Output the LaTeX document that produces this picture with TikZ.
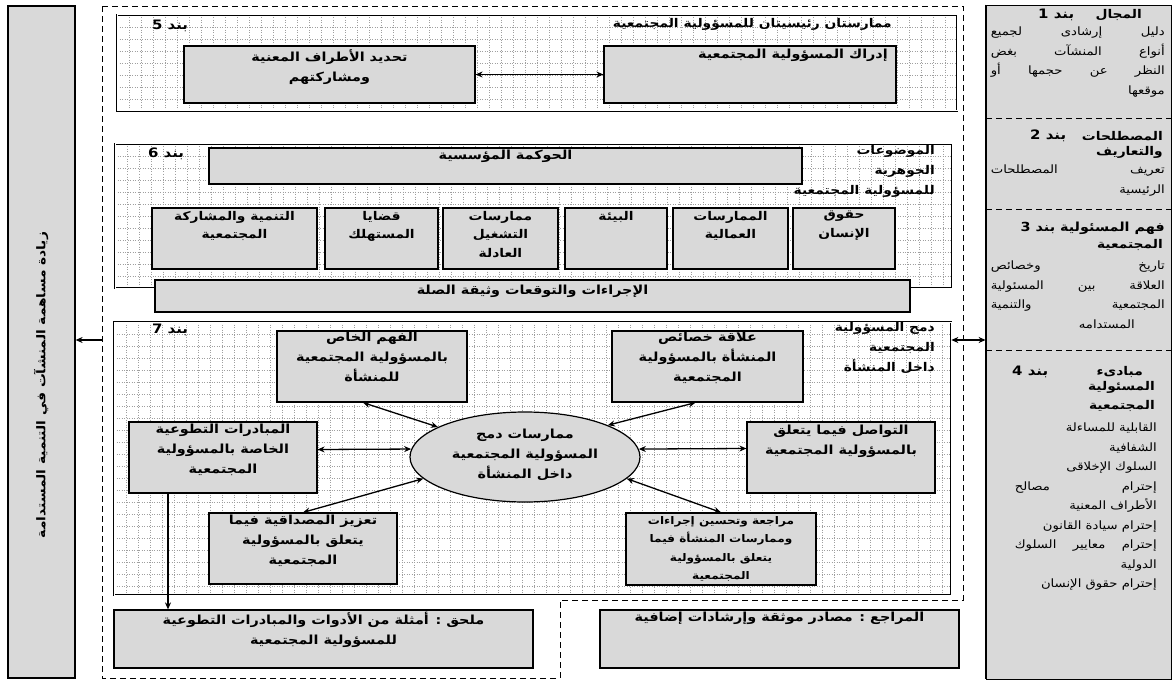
\documentclass[tikz,border=0pt]{standalone}
\usepackage{fontspec}
\usetikzlibrary{arrows.meta,calc,shapes.geometric}
\newfontfamily\ar[Script=Arabic,FakeStretch=1.15]{DejaVu Sans}
\TeXXeTstate=1
\newcommand\R[1]{\beginR #1\endR}
\definecolor{boxgray}{RGB}{217,217,217}
\newcommand\gridfill[4]{%
  \begin{scope}
    \clip (#1,#2) rectangle (#3,#4);
    \foreach \gx in {0,12,...,900} \draw[gridline] ({#1+\gx},#2) -- ({#1+\gx},#4);
    \foreach \gy in {0,12,...,300} \draw[gridline] (#1,{#2+\gy}) -- (#3,{#2+\gy});
  \end{scope}}
\begin{document}
\begin{tikzpicture}[x=1pt,y=-1pt,
  gridline/.style={gray!75, line width=0.5pt, dash pattern=on 1pt off 1.5pt},
  frame/.style={draw, line width=0.6pt, double, double distance=1pt, inner sep=0pt},
  gbox/.style={draw, line width=1.2pt, fill=boxgray, inner sep=0pt},
  bt/.style={font=\ar\bfseries\fontsize{12.5}{20}\selectfont, align=center, inner sep=0pt, anchor=north},
  lt/.style={font=\ar\bfseries\fontsize{12}{20}\selectfont, align=right, inner sep=0pt, anchor=north east},
  band/.style={font=\ar\bfseries\fontsize{13}{15}\selectfont, inner sep=0pt},
  rt/.style={font=\ar\fontsize{11.5}{19.5}\selectfont, align=right, inner sep=0pt, anchor=north east},
  rtb/.style={font=\ar\bfseries\fontsize{12}{19.5}\selectfont, align=right, inner sep=0pt},
  darr/.style={{Stealth[length=7pt,width=6pt]}-{Stealth[length=7pt,width=6pt]}, line width=1.3pt},
  arr/.style={-{Stealth[length=7pt,width=6pt]}, line width=1.3pt},
  dashframe/.style={line width=0.8pt, dash pattern=on 6pt off 4pt}
]
\useasboundingbox (0,0) rectangle (1173,682);
\fill[white] (0,0) rectangle (1173,682);

% ---------- left vertical box ----------
\node[gbox, minimum width=67pt, minimum height=672pt] (lbox) at (41.5,342) {};
\node[rotate=90, font=\ar\bfseries\fontsize{12}{14}\selectfont, inner sep=0pt] (ltxt) at (41,385)
  {\R{زيادة مساهمة المنشآت في التنمية المستدامة}};

% ---------- right column ----------
\node[draw, line width=0.8pt, fill=boxgray, inner sep=0pt, minimum width=185pt, minimum height=674pt] (rcol) at (1078.5,342) {};
\draw[line width=1.6pt] (rcol.north west) -- (rcol.south west);
\draw[dashframe] (986,118) -- (1171,118);
\draw[dashframe] (986,209) -- (1171,209);
\draw[dashframe] (986,350) -- (1171,350);

\node[rtb, anchor=east] (r1t) at (1142,15) {\R{المجال}};
\node[band, anchor=west] (r1b) at (1038,15) {\R{بند 1}};
\node[rt] (r1x) at (1165,27) {\hbox to 174pt{\beginR دليل إرشادى لجميع\endR}\\\hbox to 174pt{\beginR أنواع المنشآت بغض\endR}\\\hbox to 174pt{\beginR النظر عن حجمها أو\endR}\\\R{موقعها}};

\node[rtb, anchor=east] (r2t) at (1163,136) {\R{المصطلحات}};
\node[band, anchor=west] (r2b) at (1030,136) {\R{بند 2}};
\node[rtb, anchor=north east] (r2s) at (1163,146) {\R{والتعاريف}};
\node[rt] (r2x) at (1165,165) {\hbox to 174pt{\beginR تعريف المصطلحات\endR}\\\R{الرئيسية}};

\node[rtb, anchor=east, font=\ar\bfseries\fontsize{12.5}{19.5}\selectfont] (r3t) at (1165,228) {\R{فهم المسئولية بند 3}};
\node[rtb, anchor=north east] (r3s) at (1163,239) {\R{المجتمعية}};
\node[rt] (r3x) at (1165,261) {\hbox to 174pt{\beginR تاريخ وخصائص\endR}\\\hbox to 174pt{\beginR العلاقة بين المسئولية\endR}\\\hbox to 174pt{\beginR المجتمعية والتنمية\endR}\\\R{المستدامه}\hspace*{30pt}};

\node[rtb, anchor=east] (r4t) at (1143,372) {\R{مبادىء}};
\node[band, anchor=west] (r4b) at (1012,372) {\R{بند 4}};
\node[rtb, anchor=north east] (r4s) at (1155,381) {\R{المسئولية}\\\R{المجتمعية}};
\node[rt] (r4x) at (1157,423) {\R{القابلية للمساءلة}\\\R{الشفافية}\\\R{السلوك الإخلاقى}\\\hbox to 142pt{\beginR إحترام مصالح\endR}\\\R{الأطراف المعنية}\\\R{إحترام سيادة القانون}\\\hbox to 142pt{\beginR إحترام معايير السلوك\endR}\\\R{الدولية}\\\R{إحترام حقوق الإنسان}};

% ---------- dashed outer frame ----------
\draw[dashframe] (102,6) -- (963,6) -- (963,600) -- (560,600) -- (560,678) -- (102,678) -- cycle;
\coordinate (fl) at (102,340);

% ---------- grids ----------
\gridfill{117}{15}{957}{111}
\gridfill{115}{144}{952}{288}
\gridfill{114}{322}{951}{595}

% ---------- section 5 ----------
\node[frame, minimum width=840pt, minimum height=96pt] (sec5) at (537,63) {};
\node[band] (n5) at (170,26) {\R{بند 5}};
\node[font=\ar\bfseries\fontsize{12}{14}\selectfont, inner sep=0pt, anchor=east] (t5) at (892,24) {\R{ممارستان رئيسيتان للمسؤولية المجتمعية}};
\node[gbox, minimum width=291pt, minimum height=57pt] (b5l) at (329.5,74.5) {};
\node[gbox, minimum width=292pt, minimum height=57pt] (b5r) at (750,74.5) {};
\node[bt] (t5l) at (329.5,49) {\R{تحديد الأطراف المعنية}\\\R{ومشاركتهم}};
\node[bt, anchor=north east] (t5r) at (888,49) {\R{إدراك المسؤولية المجتمعية}};
\draw[darr] (b5l.east) -- (b5r.west);

% ---------- section 6 ----------
\node[frame, minimum width=837pt, minimum height=144pt] (sec6) at (533.5,216) {};
\node[band] (n6) at (166,154) {\R{بند 6}};
\node[lt] (l6) at (935,145) {\R{الموضوعات}\\\R{الجوهرية}\\\R{للمسؤولية المجتمعية}};
\node[gbox, minimum width=593pt, minimum height=36pt] (gov) at (505.5,166) {};
\node[bt] (tgov) at (505.5,150) {\R{الحوكمة المؤسسية}};
\node[gbox, minimum width=165pt, minimum height=61pt] (c1) at (234.5,238.5) {};
\node[gbox, minimum width=113pt, minimum height=61pt] (c2) at (381.5,238.5) {};
\node[gbox, minimum width=115pt, minimum height=61pt] (c3) at (500.5,238.5) {};
\node[gbox, minimum width=102pt, minimum height=61pt] (c4) at (616,238.5) {};
\node[gbox, minimum width=115pt, minimum height=61pt] (c5) at (730.5,238.5) {};
\node[gbox, minimum width=102pt, minimum height=61pt] (c6) at (844,238.5) {};
\node[bt, font=\ar\bfseries\fontsize{12}{18.5}\selectfont] (tc1) at (234.5,211) {\R{التنمية والمشاركة}\\\R{المجتمعية}};
\node[bt, font=\ar\bfseries\fontsize{12}{18.5}\selectfont] (tc2) at (381.5,211) {\R{قضايا}\\\R{المستهلك}};
\node[bt, font=\ar\bfseries\fontsize{12}{18.5}\selectfont] (tc3) at (500.5,211) {\R{ممارسات}\\\R{التشغيل}\\\R{العادلة}};
\node[bt, font=\ar\bfseries\fontsize{12}{18.5}\selectfont] (tc4) at (616,211) {\R{البيئة}};
\node[bt, font=\ar\bfseries\fontsize{12}{18.5}\selectfont] (tc5) at (730.5,211) {\R{الممارسات}\\\R{العمالية}};
\node[bt, font=\ar\bfseries\fontsize{12}{18.5}\selectfont] (tc6) at (844,211) {\R{حقوق}\\\R{الإنسان}};
\node[gbox, minimum width=755pt, minimum height=32pt] (proc) at (532.5,296) {};
\node[bt] (tproc) at (532.5,285) {\R{الإجراءات والتوقعات وثيقة الصلة}};

% ---------- section 7 ----------
\node[frame, minimum width=837pt, minimum height=273pt] (sec7) at (532.5,458.5) {};
\node[band] (n7) at (170,330) {\R{بند 7}};
\node[lt] (l7) at (935,322) {\R{دمج المسؤولية}\\\R{المجتمعية}\\\R{داخل المنشأة}};
\node[gbox, minimum width=190pt, minimum height=71pt] (ul) at (372,366.5) {};
\node[gbox, minimum width=191pt, minimum height=71pt] (ur) at (707.5,366.5) {};
\node[gbox, minimum width=188pt, minimum height=71pt] (ml) at (223,457.5) {};
\node[gbox, minimum width=188pt, minimum height=71pt] (mr) at (841,457.5) {};
\node[gbox, minimum width=188pt, minimum height=71pt] (ll) at (303,548.5) {};
\node[gbox, minimum width=190pt, minimum height=72pt] (lr) at (721,549) {};
\node[ellipse, draw, line width=1.2pt, fill=boxgray, inner sep=0pt, minimum width=230pt, minimum height=90pt] (ell) at (525,457) {};
\node[bt] (tul) at (372,332) {\R{الفهم الخاص}\\\R{بالمسؤولية المجتمعية}\\\R{للمنشأة}};
\node[bt] (tur) at (707.5,332) {\R{علاقة خصائص}\\\R{المنشأة بالمسؤولية}\\\R{المجتمعية}};
\node[bt] (tml) at (223,424) {\R{المبادرات التطوعية}\\\R{الخاصة بالمسؤولية}\\\R{المجتمعية}};
\node[bt] (tmr) at (841,425) {\R{التواصل فيما يتعلق}\\\R{بالمسؤولية المجتمعية}};
\node[bt, anchor=center] (tell) at (525,455) {\R{ممارسات دمج}\\\R{المسؤولية المجتمعية}\\\R{داخل المنشأة}};
\node[bt] (tll) at (303,515) {\R{تعزيز المصداقية فيما}\\\R{يتعلق بالمسؤولية}\\\R{المجتمعية}};
\node[bt, font=\ar\bfseries\fontsize{10.5}{18.5}\selectfont] (tlr) at (721,516) {\R{مراجعة وتحسين إجراءات}\\\R{وممارسات المنشأة فيما}\\\R{يتعلق بالمسؤولية}\\\R{المجتمعية}};

\draw[darr] ($(ul.south)+(-9,0)$) -- (ell.161);
\draw[darr] ($(ur.south)+(-12,0)$) -- (ell.21);
\draw[darr] ($(ml.east)+(0,-8)$) -- (ell.176);
\draw[darr] (ell.4) -- ($(mr.west)+(0,-9)$);
\draw[darr] (ell.192) -- (ll.north);
\draw[darr] (ell.348) -- (lr.north);

% ---------- annex & references ----------
\node[gbox, minimum width=419pt, minimum height=58pt] (annex) at (323.5,639) {};
\node[gbox, minimum width=359pt, minimum height=58pt] (refs) at (779.5,639) {};
\node[bt] (tannex) at (323.5,612) {\R{ملحق : أمثلة من الأدوات والمبادرات التطوعية}\\\R{للمسؤولية المجتمعية}};
\node[bt] (trefs) at (779.5,612) {\R{المراجع : مصادر موثقة وإرشادات إضافية}};

\coordinate (vs) at ($(ml.south)+(-55,0)$);
\draw[arr] (vs) -- (vs |- annex.north);

% ---------- outer arrows ----------
\draw[arr] (fl) -- (lbox.east |- fl);
\draw[darr] (sec7.east |- fl) -- (rcol.west |- fl);
\end{tikzpicture}
\end{document}
